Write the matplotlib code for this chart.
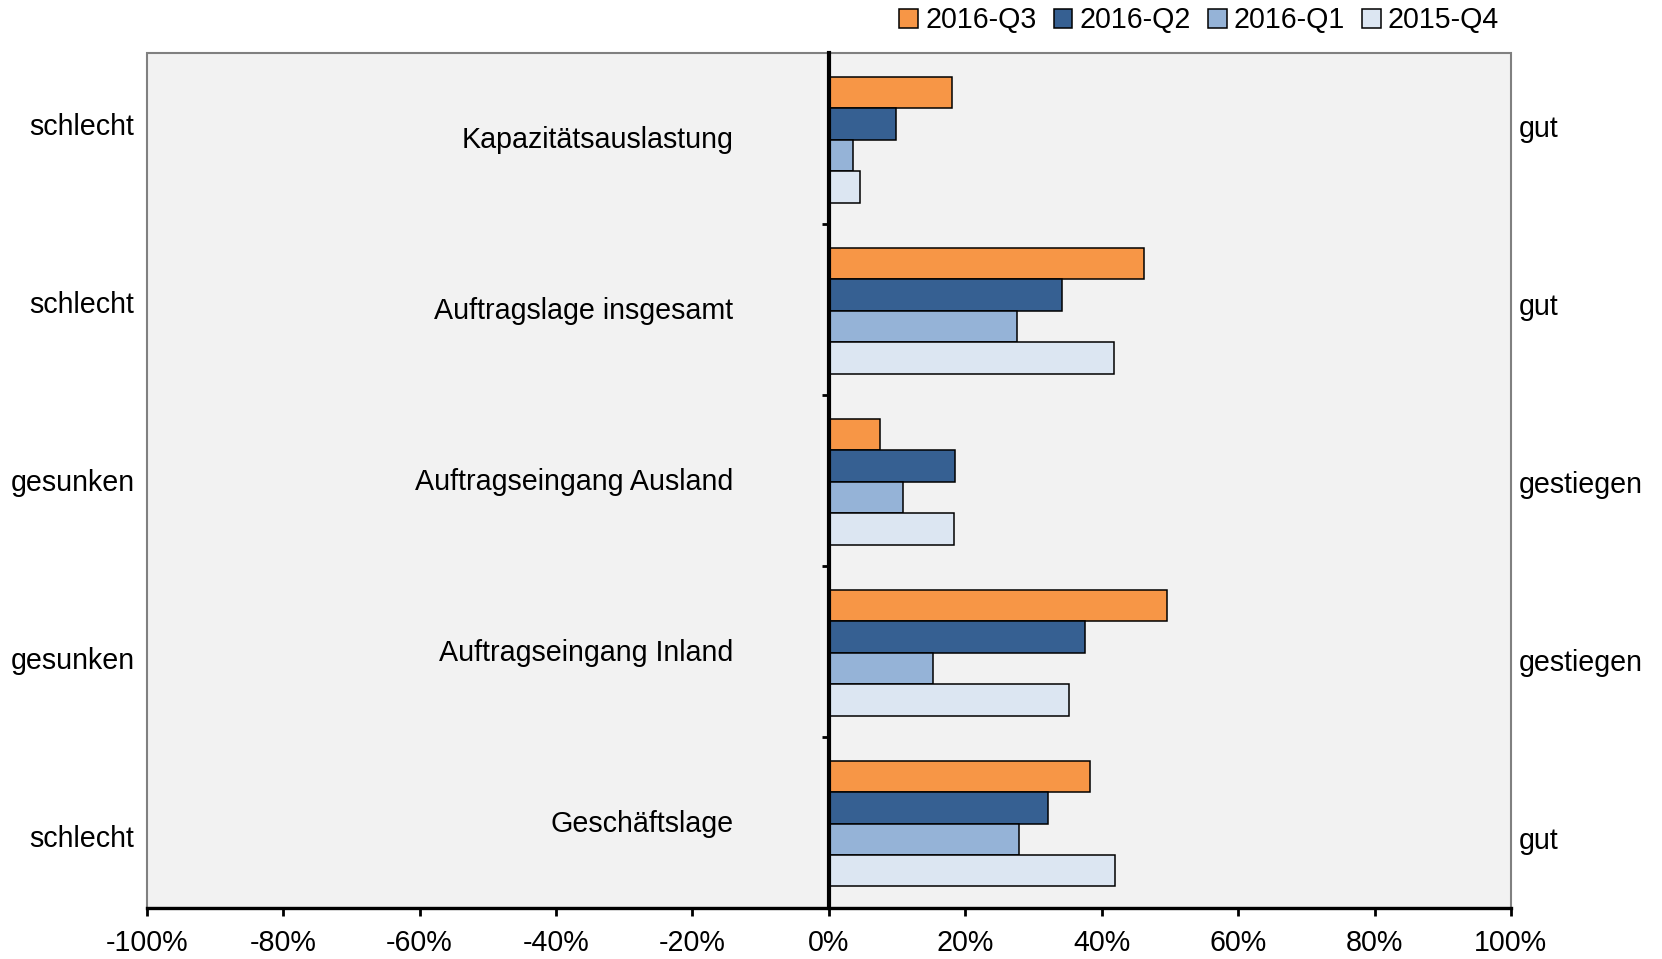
import matplotlib.pyplot as plt
from matplotlib.patches import Patch

plt.rcParams['font.family'] = ['Liberation Sans', 'DejaVu Sans']

# Kategorien von oben nach unten
kategorien = ["Kapazitätsauslastung", "Auftragslage insgesamt", "Auftragseingang Ausland",
              "Auftragseingang Inland", "Geschäftslage"]
links = ["schlecht", "schlecht", "gesunken", "gesunken", "schlecht"]
rechts = ["gut", "gut", "gestiegen", "gestiegen", "gut"]

# Werte in Prozent
q3_2016 = [18.0, 46.2, 7.5, 49.6, 38.3]
q2_2016 = [9.8, 34.2, 18.5, 37.6, 32.1]
q1_2016 = [3.5, 27.6, 10.9, 15.3, 27.9]
q4_2015 = [4.6, 41.8, 18.4, 35.2, 42.0]

serien = [("2016-Q3", q3_2016, "#F79646"),
          ("2016-Q2", q2_2016, "#366092"),
          ("2016-Q1", q1_2016, "#95B3D7"),
          ("2015-Q4", q4_2015, "#DCE6F2")]

fs = 20.6

fig = plt.figure(figsize=(16.62, 9.59), dpi=100)
ax = fig.add_axes([0.0883, 0.0532, 0.8208, 0.8912])

n = len(kategorien)
pos = [n - 1 - i for i in range(n)]
h = 0.184
offsets = [1.5 * h, 0.5 * h, -0.5 * h, -1.5 * h]

for (name, werte, farbe), off in zip(serien, offsets):
    ax.barh([p + off - 0.006 for p in pos], werte, height=h, color=farbe,
            edgecolor="black", linewidth=1.1, zorder=3)

ax.set_xlim(-100, 100)
ax.set_ylim(-0.5, n - 0.5)

# Hintergrund und Rahmen
ax.set_facecolor("#F2F2F2")
ax.patch.set_edgecolor("#808080")
ax.patch.set_linewidth(1.5)
ax.spines["top"].set_visible(False)
ax.spines["right"].set_visible(False)
ax.spines["bottom"].set_linewidth(2.4)
ax.spines["bottom"].set_zorder(5)
ax.spines["left"].set_position(("data", 0))
ax.spines["left"].set_linewidth(3)
ax.spines["left"].set_zorder(5)

# x-Achse
xt = list(range(-100, 101, 20))
ax.set_xticks(xt)
ax.set_xticklabels([f"{v}%" for v in xt], fontsize=fs)
ax.tick_params(axis="x", length=6, width=2, pad=9, direction="out")

# Striche zwischen den Gruppen an der Nulllinie
ax.set_yticks([p + 0.5 for p in range(n - 1)])
ax.set_yticklabels([])
ax.tick_params(axis="y", length=5, width=2, direction="out")

# Kategorienamen
for k, p in zip(kategorien, pos):
    ax.text(-14, p - 0.01, k, ha="right", va="center", fontsize=fs, zorder=4)

# schlecht/gut Beschriftungen
for i in range(n):
    yf = 0.497 + (2 - i) * 0.2082
    ax.text(-0.009, yf, links[i], transform=ax.transAxes, ha="right", va="center", fontsize=fs)
    ax.text(1.006, yf - 0.002, rechts[i], transform=ax.transAxes, ha="left", va="center", fontsize=fs)

handles = [Patch(facecolor=c, edgecolor="black", linewidth=1.1, label=name) for name, _, c in serien]
fig.legend(handles=handles, loc="center right", bbox_to_anchor=(0.902, 0.979), ncol=4,
           frameon=False, fontsize=fs, handlelength=0.65, handleheight=0.65,
           handletextpad=0.25, columnspacing=0.6, borderaxespad=0, borderpad=0)

plt.savefig("out.png", dpi=100)
